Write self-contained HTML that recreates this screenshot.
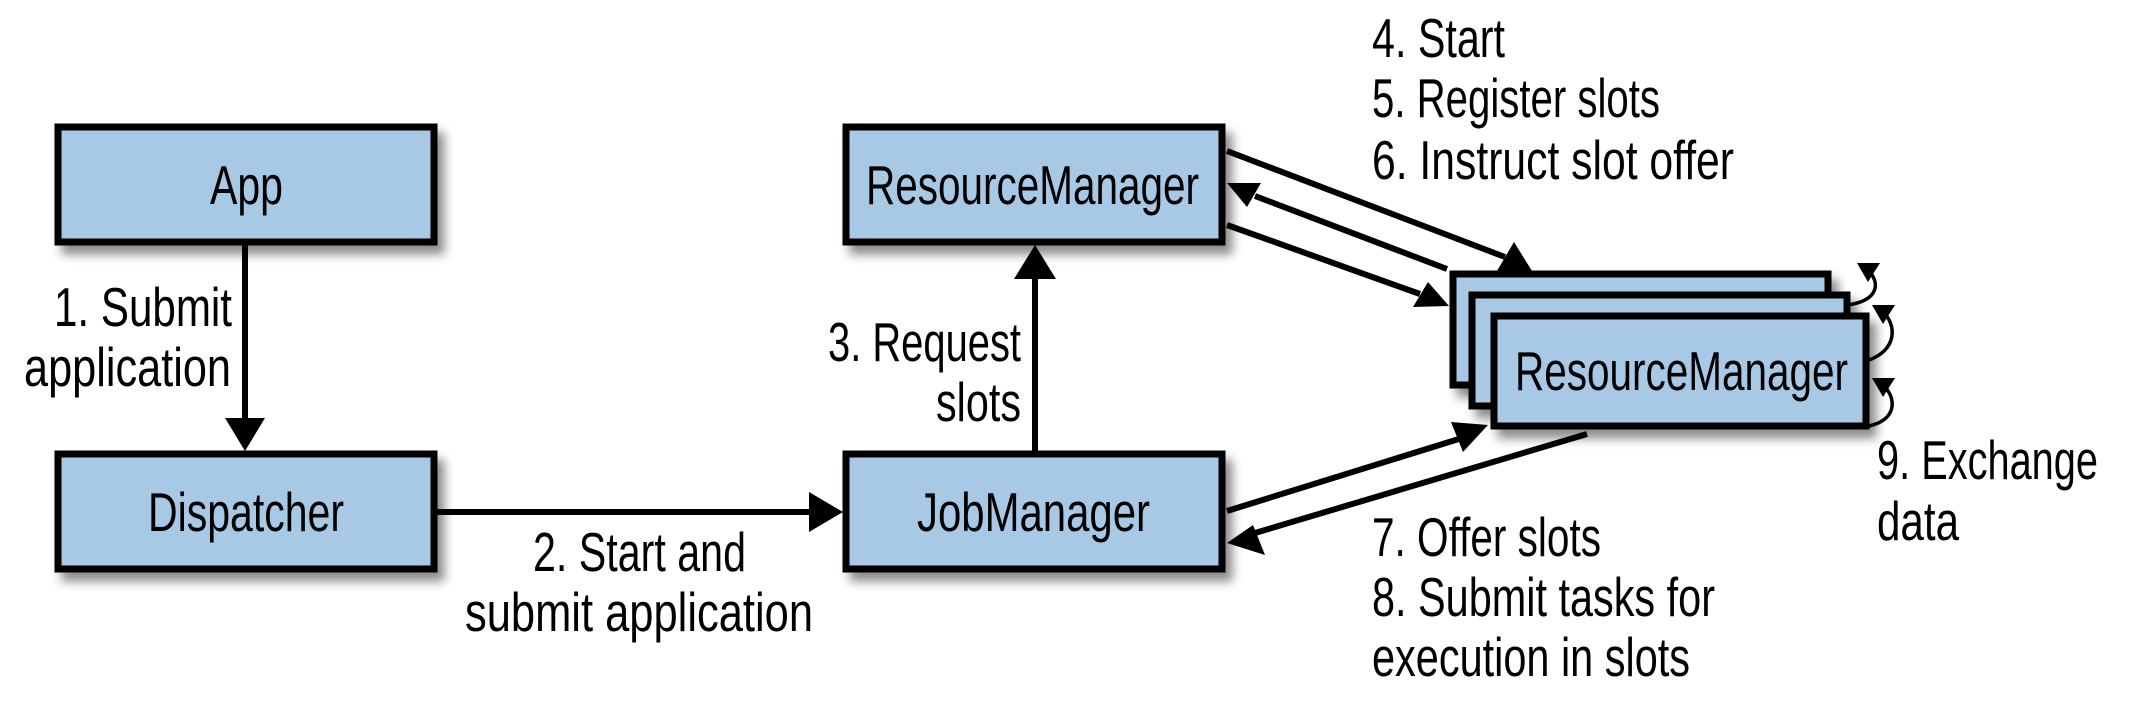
<!DOCTYPE html>
<html><head><meta charset="utf-8"><style>html,body{margin:0;padding:0;background:#fff}svg{display:block}</style></head>
<body>
<svg width="2142" height="728" viewBox="0 0 2142 728" xmlns="http://www.w3.org/2000/svg" font-family="'Liberation Sans Narrow','Liberation Sans',sans-serif" font-size="55" fill="#000">
<defs>
<filter id="sh" x="-10%" y="-20%" width="130%" height="150%"><feDropShadow dx="7" dy="9" stdDeviation="5" flood-color="#000" flood-opacity="0.45"/></filter>
</defs>
<g fill="#a7c9e5" stroke="#000" stroke-width="7" filter="url(#sh)">
<rect x="58" y="127" width="376" height="115"/>
<rect x="58" y="454" width="376" height="115"/>
<rect x="846" y="127" width="376" height="115"/>
<rect x="846" y="454" width="376" height="115"/>
<rect x="1453" y="274" width="375" height="111"/>
<rect x="1472" y="295" width="375" height="111"/>
<rect x="1494" y="316" width="372" height="110"/>
</g>
<g stroke="#000" stroke-width="6" fill="none">
<line x1="245" y1="245" x2="245" y2="420"/>
<line x1="437" y1="512" x2="812" y2="512"/>
<line x1="1035" y1="451" x2="1035" y2="278"/>
<line x1="1227" y1="151" x2="1505" y2="257"/>
<line x1="1447" y1="269" x2="1255" y2="196"/>
<line x1="1227" y1="225" x2="1420" y2="294"/>
<line x1="1227" y1="511" x2="1462" y2="438"/>
<line x1="1587" y1="434" x2="1255" y2="533"/>
</g>
<g fill="#000">
<polygon points="225,418 265,418 245,451"/>
<polygon points="809,492 809,532 843,512"/>
<polygon points="1014,279 1056,279 1035,245"/>
<polygon points="1532,271 1497,271 1514,242"/>
<polygon points="1227,183 1261,183 1247,207"/>
<polygon points="1449,306 1413,307 1428,282"/>
<polygon points="1488,425 1451,422 1463,452"/>
<polygon points="1227,543 1265,555 1253,525"/>
</g>
<g stroke="#000" stroke-width="3.5" fill="none">
<path d="M1848,305 C1880,300 1880,282 1868,270"/>
<path d="M1869,360 C1897,350 1897,325 1883,312"/>
<path d="M1869,426 C1897,420 1897,398 1883,385"/>
</g>
<g fill="#000">
<polygon points="1857,263 1880,263 1868,282"/>
<polygon points="1872,305 1895,305 1883,324"/>
<polygon points="1872,378 1895,378 1883,397"/>
</g>
<g>
<text x="210" y="204" textLength="73" lengthAdjust="spacingAndGlyphs">App</text>
<text x="148" y="531" textLength="196" lengthAdjust="spacingAndGlyphs">Dispatcher</text>
<text x="866" y="204" textLength="333" lengthAdjust="spacingAndGlyphs">ResourceManager</text>
<text x="917" y="531" textLength="233" lengthAdjust="spacingAndGlyphs">JobManager</text>
<text x="1515" y="390" textLength="333" lengthAdjust="spacingAndGlyphs">ResourceManager</text>
<text x="54" y="326" textLength="178" lengthAdjust="spacingAndGlyphs">1. Submit</text>
<text x="24" y="386" textLength="207" lengthAdjust="spacingAndGlyphs">application</text>
<text x="533" y="571" textLength="213" lengthAdjust="spacingAndGlyphs">2. Start and</text>
<text x="465" y="631" textLength="348" lengthAdjust="spacingAndGlyphs">submit application</text>
<text x="828" y="361" textLength="193" lengthAdjust="spacingAndGlyphs">3. Request</text>
<text x="936" y="421" textLength="85" lengthAdjust="spacingAndGlyphs">slots</text>
<text x="1372" y="57" textLength="133" lengthAdjust="spacingAndGlyphs">4. Start</text>
<text x="1372" y="117" textLength="288" lengthAdjust="spacingAndGlyphs">5. Register slots</text>
<text x="1372" y="179" textLength="362" lengthAdjust="spacingAndGlyphs">6. Instruct slot offer</text>
<text x="1372" y="556" textLength="229" lengthAdjust="spacingAndGlyphs">7. Offer slots</text>
<text x="1372" y="616" textLength="343" lengthAdjust="spacingAndGlyphs">8. Submit tasks for</text>
<text x="1372" y="676" textLength="318" lengthAdjust="spacingAndGlyphs">execution in slots</text>
<text x="1877" y="479" textLength="221" lengthAdjust="spacingAndGlyphs">9. Exchange</text>
<text x="1877" y="540" textLength="82" lengthAdjust="spacingAndGlyphs">data</text>
</g>
</svg>
</body></html>
